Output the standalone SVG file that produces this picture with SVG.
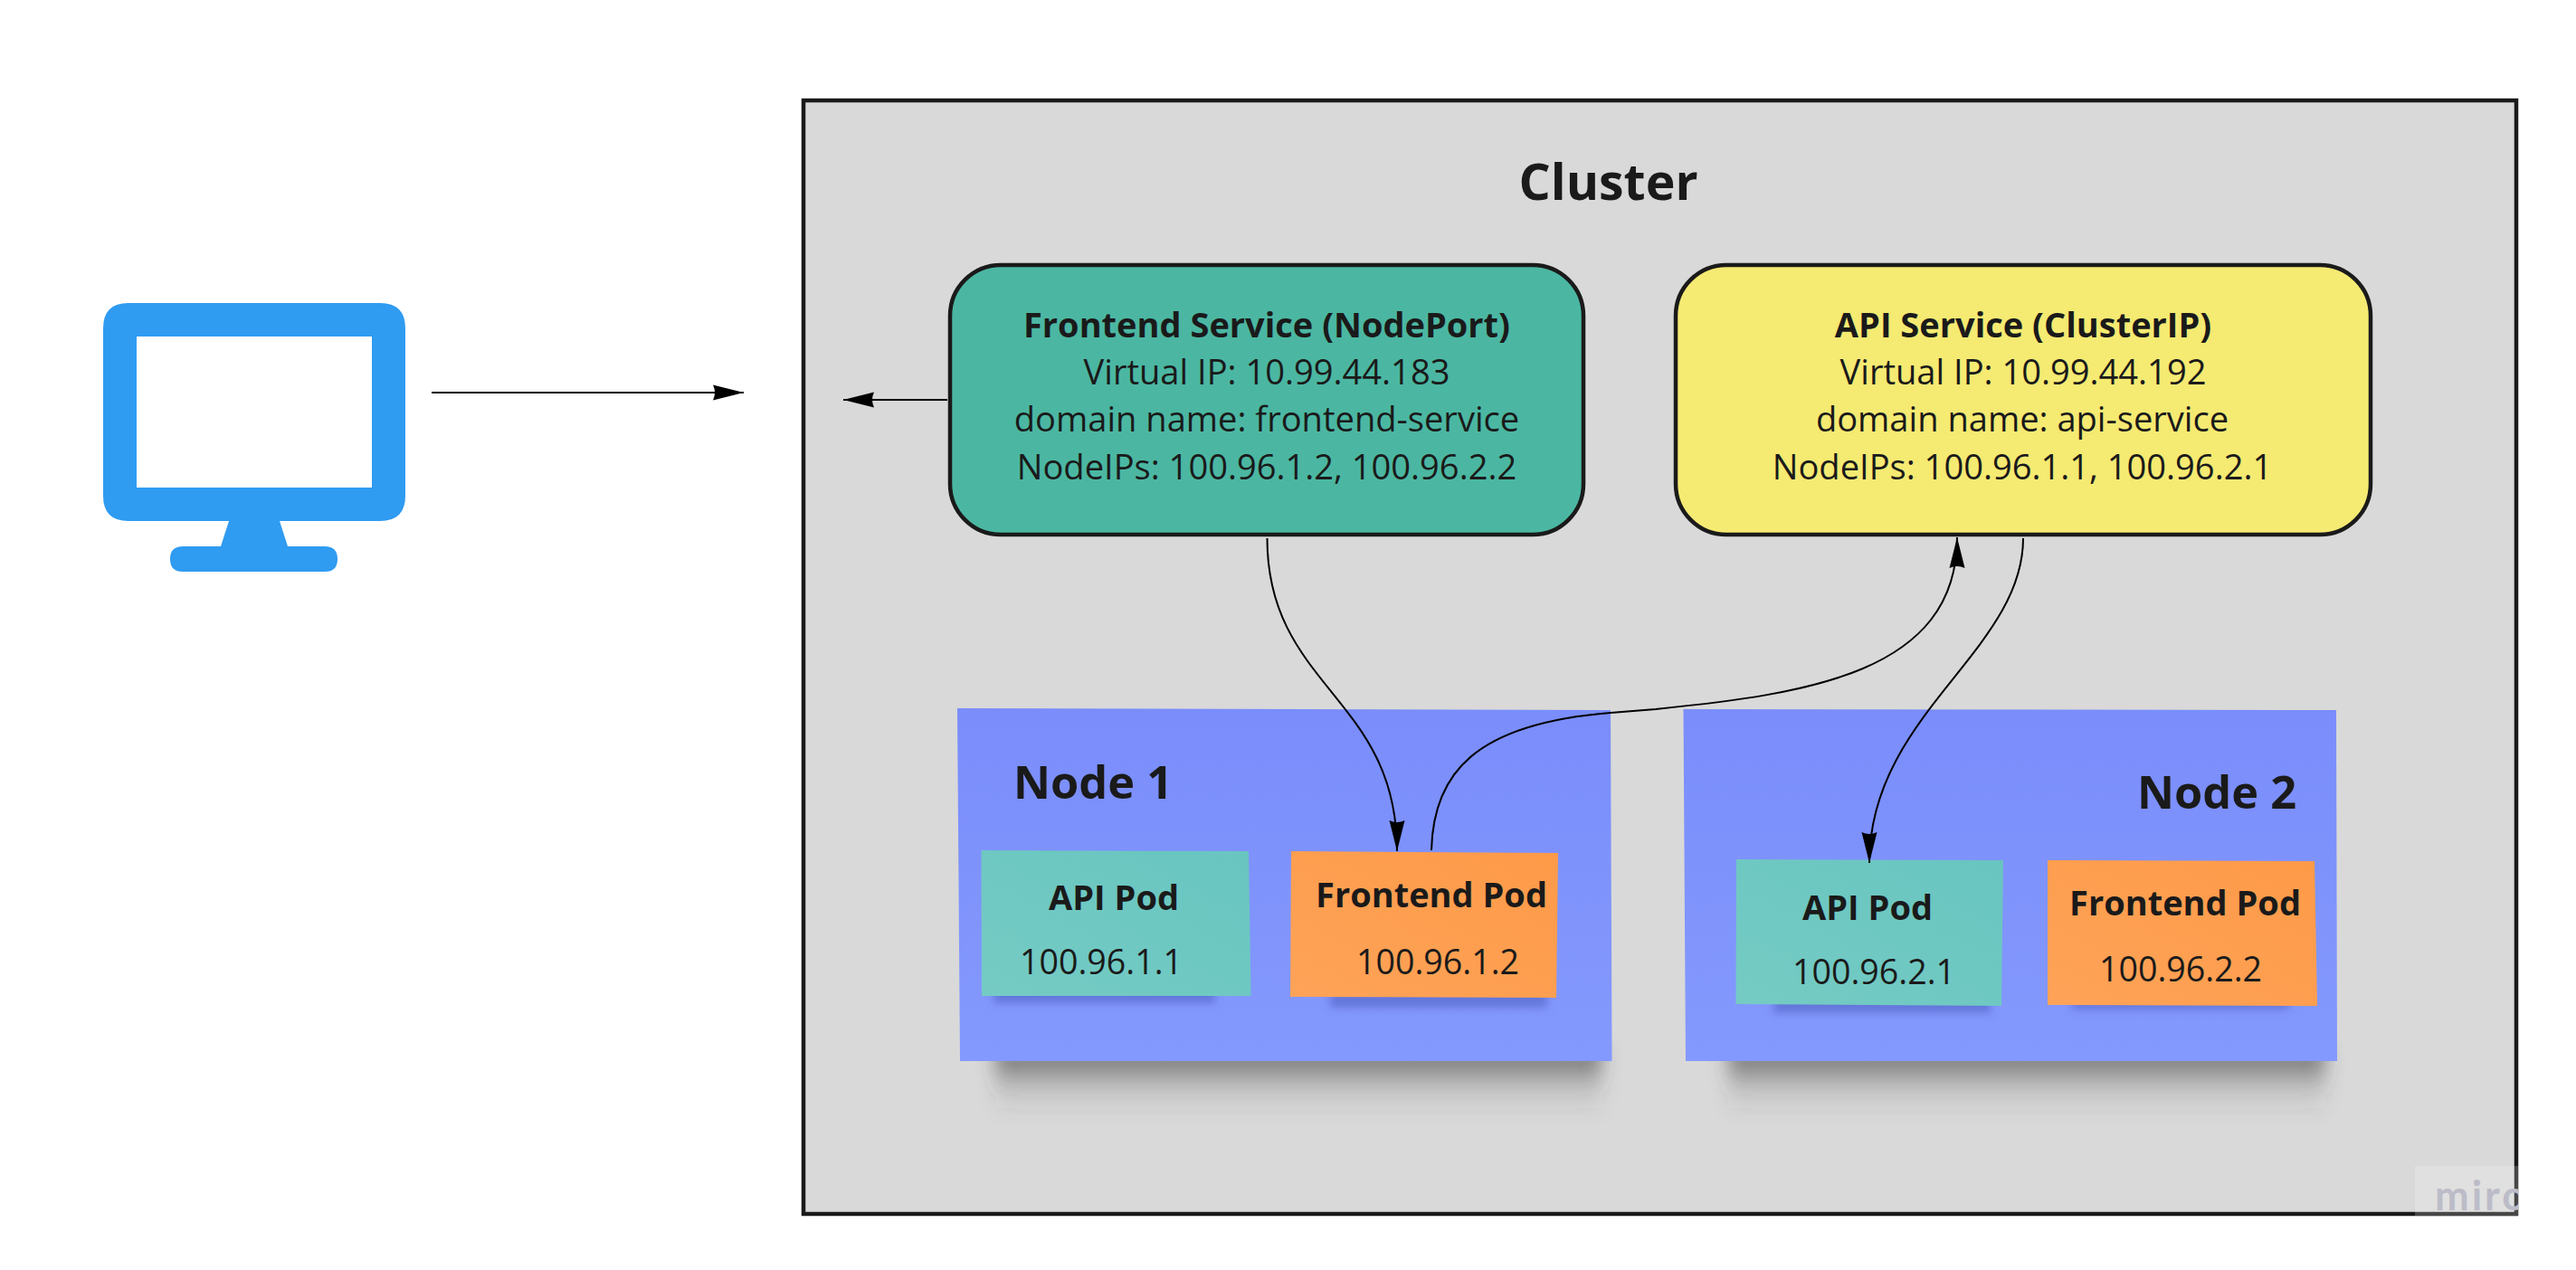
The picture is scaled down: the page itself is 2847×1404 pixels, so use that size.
<svg xmlns="http://www.w3.org/2000/svg" width="2847" height="1404" viewBox="0 0 2847 1404">
<style>
text{font-family:"Open Sans","Noto Sans","Liberation Sans",sans-serif;fill:#1a1a1a;text-anchor:middle}
.t{font-size:38px;font-weight:700}
.l{font-size:38.1px;font-weight:400}
.p{font-size:37.600px;font-weight:400}
.h{font-size:50.500px;font-weight:700}
.box{stroke:#1a1a1a;stroke-width:4.5}
.conn{fill:none;stroke:#000;stroke-width:2}
.node{fill:url(#nodeGrad)}
.api{fill:url(#apiGrad)}
.fe{fill:url(#feGrad)}
.podshadow{fill:#4a5bc0;fill-opacity:.55;filter:url(#b4)}
.nodeshadow{fill:url(#shadowGrad);filter:url(#b8)}
</style>
<defs>
<linearGradient id="nodeGrad" x1="0" y1="0" x2="0" y2="1"><stop offset="0" stop-color="#7a8dfb"/><stop offset="1" stop-color="#8499fd"/></linearGradient>
<linearGradient id="apiGrad" x1="1" y1="0" x2="0" y2="1"><stop offset="0" stop-color="#68c5c0"/><stop offset="1" stop-color="#75cbc4"/></linearGradient>
<linearGradient id="feGrad" x1="1" y1="0" x2="0" y2="1"><stop offset="0" stop-color="#fd9a48"/><stop offset="1" stop-color="#fea358"/></linearGradient>
<linearGradient id="shadowGrad" x1="0" y1="0" x2="0" y2="1"><stop offset="0" stop-color="#404040" stop-opacity=".8"/><stop offset=".3" stop-color="#404040" stop-opacity=".42"/><stop offset=".6" stop-color="#404040" stop-opacity=".12"/><stop offset="1" stop-color="#404040" stop-opacity="0"/></linearGradient>
<filter id="b4" x="-20%" y="-100%" width="140%" height="300%"><feGaussianBlur stdDeviation="4"/></filter>
<filter id="b8" x="-20%" y="-50%" width="140%" height="200%"><feGaussianBlur stdDeviation="10"/></filter>
<marker id="head" markerUnits="userSpaceOnUse" markerWidth="34" markerHeight="18" refX="34" refY="9" orient="auto"><path d="M0,0.5 L34,9 L0,17.5 Q4,9 0,0.5 Z" fill="#000"/></marker>
<clipPath id="wm"><rect x="2669" y="1289" width="114" height="55"/></clipPath>
</defs>
<rect width="2847" height="1404" fill="#fff"/>
<g id="cluster">
<rect x="888" y="111" width="1893" height="1231" fill="#d9d9d9" stroke="#1a1a1a" stroke-width="4.5"/>
<text class="h" x="1777.500" y="221" style="font-size:55.400px">Cluster</text>
</g>
<g id="monitor" fill="#2f9bf1">
<path fill-rule="evenodd" d="M142,335 H420 Q448,335 448,363 V548 Q448,576 420,576 H309 L318,604 H359 Q373,604 373,618 Q373,632 359,632 H202 Q188,632 188,618 Q188,604 202,604 H244 L253,576 H142 Q114,576 114,548 V363 Q114,335 142,335 Z M151,372 V539 H411 V372 Z"/>
</g>
<g id="frontend-service">
<rect class="box" x="1050" y="293" width="700" height="298" rx="56" ry="56" fill="#4bb7a2"/>
<text class="t" x="1400" y="373">Frontend Service (NodePort)</text>
<text class="l" x="1400" y="425">Virtual IP: 10.99.44.183</text>
<text class="l" x="1400" y="477">domain name: frontend-service</text>
<text class="l" x="1400" y="530">NodeIPs: 100.96.1.2, 100.96.2.2</text>
</g>
<g id="api-service">
<rect class="box" x="1852" y="293" width="768" height="298" rx="56" ry="56" fill="#f5ea72"/>
<text class="t" x="2236" y="373">API Service (ClusterIP)</text>
<text class="l" x="2236" y="425">Virtual IP: 10.99.44.192</text>
<text class="l" x="2235" y="477">domain name: api-service</text>
<text class="l" x="2235" y="530">NodeIPs: 100.96.1.1, 100.96.2.1</text>
</g>
<g id="node-1">
<rect class="nodeshadow" x="1100" y="1160" width="670" height="75"/>
<polygon class="node" points="1058,783 1780,785 1781.500,1173 1061,1173"/>
<text class="h" x="1208" y="883">Node 1</text>
</g>
<g id="api-pod-1">
<rect class="podshadow" x="1098" y="1092" width="245" height="17"/>
<polygon class="api" points="1084.500,940 1380,941 1382.500,1101 1085,1101"/>
<text class="t" x="1231" y="1006">API Pod</text>
<text class="p" x="1217" y="1077">100.96.1.1</text>
</g>
<g id="frontend-pod-1">
<rect class="podshadow" x="1470" y="1094" width="240" height="20"/>
<polygon class="fe" points="1427,941 1722,943 1720,1103 1426,1102"/>
<text class="t" x="1582" y="1003">Frontend Pod</text>
<text class="p" x="1589" y="1077">100.96.1.2</text>
</g>
<g id="node-2">
<rect class="nodeshadow" x="1910" y="1160" width="660" height="75"/>
<polygon class="node" points="1860.500,784 2582,785 2583,1173 1863,1173"/>
<text class="h" x="2450" y="894">Node 2</text>
</g>
<g id="api-pod-2">
<rect class="podshadow" x="1960" y="1102" width="240" height="18"/>
<polygon class="api" points="1919,950 2214,951 2212,1112 1918.500,1110"/>
<text class="t" x="2064" y="1017">API Pod</text>
<text class="p" x="2071" y="1088">100.96.2.1</text>
</g>
<g id="frontend-pod-2">
<rect class="podshadow" x="2290" y="1103" width="240" height="13"/>
<polygon class="fe" points="2263,951 2558,952 2561,1112 2263,1111"/>
<text class="t" x="2415" y="1012">Frontend Pod</text>
<text class="p" x="2410" y="1085">100.96.2.2</text>
</g>
<g id="connectors">
<path class="conn" d="M477,434 H822" marker-end="url(#head)"/>
<path class="conn" d="M1047,442 H932" marker-end="url(#head)"/>
<path class="conn" d="M1400.500,595 C1400.500,760 1544,770 1544,941" marker-end="url(#head)"/>
<path class="conn" d="M1582,940 C1584,855 1630,800 1780,788 L1830,784 C1995,767 2163,745 2163,594" marker-end="url(#head)"/>
<path class="conn" d="M2236,595 C2236,720 2066,790 2066,954" marker-end="url(#head)"/>
</g>
<g id="watermark">
<rect x="2669" y="1289" width="114" height="55" fill="#fff" fill-opacity="0.2"/>
<g clip-path="url(#wm)"><text x="2691" y="1338" style="font-family:Lato,'Open Sans',sans-serif;font-size:45px;font-weight:700;fill:#bcbcc8;text-anchor:start;letter-spacing:3px">miro</text></g>
</g>
</svg>
